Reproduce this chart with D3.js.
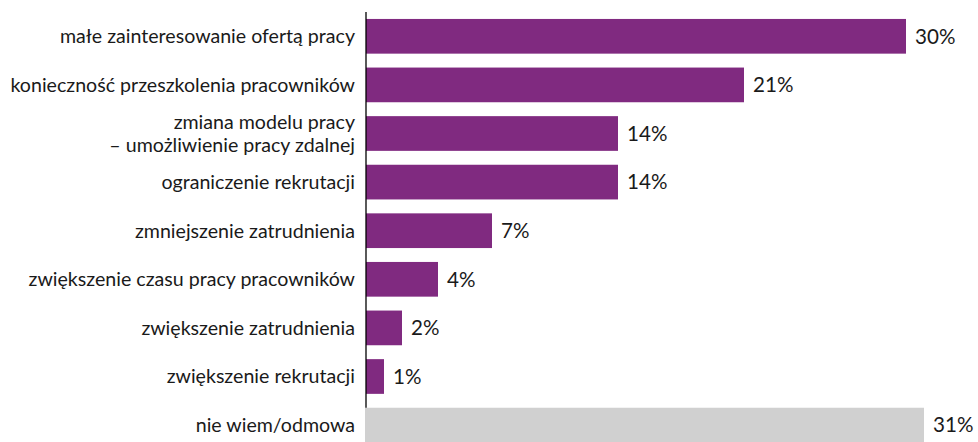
<!DOCTYPE html>
<html>
<head>
<meta charset="utf-8">
<script src="https://cdn.jsdelivr.net/npm/d3@7"></script>
<style>
  html, body { margin: 0; padding: 0; background: #fff; }
  svg { display: block; }
  text { font-family: Lato, "Open Sans", sans-serif; fill: #1a1a1a; }
</style>
</head>
<body>
<svg id="chart" width="978" height="442"></svg>
<script>
// Reasons / effects listed in the survey, one row each (multi-line labels split by "\n")
const categories = [
  "małe zainteresowanie ofertą pracy",
  "konieczność przeszkolenia pracowników",
  "zmiana modelu pracy\n– umożliwienie pracy zdalnej",
  "ograniczenie rekrutacji",
  "zmniejszenie zatrudnienia",
  "zwiększenie czasu pracy pracowników",
  "zwiększenie zatrudnienia",
  "zwiększenie rekrutacji",
  "nie wiem/odmowa"
];
// Share of answers, in percent
const values = [30, 21, 14, 14, 7, 4, 2, 1, 31];
// Value labels shown next to each bar
const valueLabels = ["30%", "21%", "14%", "14%", "7%", "4%", "2%", "1%", "31%"];
// Rows that are "no answer" get a neutral colour
const neutral = [false, false, false, false, false, false, false, false, true];

const svg = d3.select("#chart");
const axisX = 366;
const fontSize = 19.6;
const valueFontSize = 20.6;

const x = d3.scaleLinear().domain([0, 1]).range([axisX, axisX + 18]);
const y = d3.scaleBand()
  .domain(d3.range(categories.length))
  .range([12, 12 + 9 * 48.6])
  .paddingInner(0.286)
  .paddingOuter(0.143);

const rows = d3.range(categories.length);

// bars
svg.append("g").selectAll("rect")
  .data(rows)
  .join("rect")
  .attr("x", i => neutral[i] ? axisX - 1 : axisX)
  .attr("y", i => y(i))
  .attr("width", i => x(values[i]) - axisX + (neutral[i] ? 1 : 0))
  .attr("height", y.bandwidth())
  .attr("fill", i => neutral[i] ? "#d0d0d0" : "#802a80");

// vertical category axis line
svg.append("line")
  .attr("x1", axisX).attr("x2", axisX)
  .attr("y1", y.range()[0]).attr("y2", y(categories.length - 1))
  .attr("stroke", "#000").attr("stroke-width", 1.3);

// category labels
const lineH = 23;
svg.append("g").selectAll("text")
  .data(rows)
  .join("text")
  .attr("text-anchor", "end")
  .attr("font-size", fontSize)
  .each(function(i) {
    const lines = categories[i].split("\n");
    const cy = y(i) + y.bandwidth() / 2;
    const t = d3.select(this);
    lines.forEach((ln, k) => {
      t.append("tspan")
        .attr("x", axisX - 11)
        .attr("y", cy + (k - (lines.length - 1) / 2) * lineH)
        .attr("dy", "0.35em")
        .text(ln);
    });
  });

// value labels
svg.append("g").selectAll("text")
  .data(rows)
  .join("text")
  .attr("x", i => x(values[i]) + 9)
  .attr("y", i => y(i) + y.bandwidth() / 2)
  .attr("dy", "0.35em")
  .attr("font-size", valueFontSize)
  .text(i => valueLabels[i]);
</script>
</body>
</html>
